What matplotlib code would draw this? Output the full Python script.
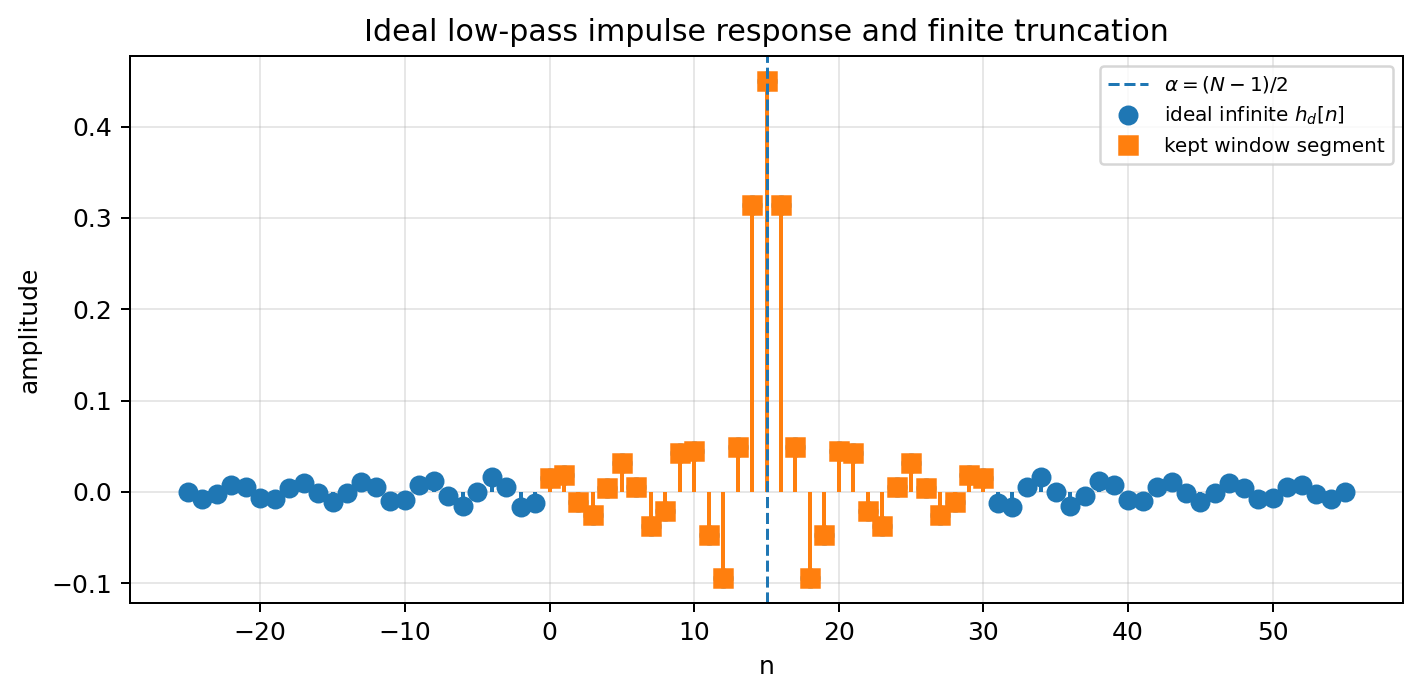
import matplotlib
matplotlib.use("Agg")
import matplotlib.pyplot as plt
from matplotlib.lines import Line2D
import numpy as np

# sample index and ideal (infinite) impulse response values
n_ideal = list(range(-25, 56))
h_ideal = [
    0.0, -0.0081, -0.0026, 0.0077, 0.0052, -0.0064, -0.0076, 0.0044, 0.0095, -0.0016,
    -0.0106, -0.0017, 0.0108, 0.0054, -0.0099, -0.0090, 0.0078, 0.0123, -0.0045, -0.0150,
    0.0, 0.0166, 0.0055, -0.0167, -0.0117,
    # n = 0 .. 30
    0.0150, 0.0184, -0.0111, -0.0252, 0.0045, 0.0318, 0.0055, -0.0378, -0.0206, 0.0429,
    0.0450, -0.0468, -0.0945, 0.0492, 0.3144, 0.4500, 0.3144, 0.0492, -0.0945, -0.0468,
    0.0450, 0.0429, -0.0206, -0.0378, 0.0055, 0.0318, 0.0045, -0.0252, -0.0111, 0.0184,
    0.0150,
    # n = 31 .. 55
    -0.0117, -0.0167, 0.0055, 0.0166, 0.0, -0.0150, -0.0045, 0.0123, 0.0078, -0.0090,
    -0.0099, 0.0054, 0.0108, -0.0017, -0.0106, -0.0016, 0.0095, 0.0044, -0.0076, -0.0064,
    0.0052, 0.0077, -0.0026, -0.0081, 0.0,
]

# kept window segment: n = 0 .. N-1
N = 31
alpha = (N - 1) / 2
n_kept = n_ideal[25:25 + N]
h_kept = h_ideal[25:25 + N]

DPI = 180
fig = plt.figure(figsize=(1421 / DPI, 697 / DPI), dpi=DPI)
ax = fig.add_axes([130 / 1421, 94 / 697, 1273 / 1421, 547 / 697])

# ideal response (blue circles)
ml1, sl1, bl1 = ax.stem(n_ideal, h_ideal, linefmt="C0-", markerfmt="C0o", basefmt=" ")
ml1.set_markersize(7)
sl1.set_linewidth(1.6)

# truncated segment (orange squares)
ml2, sl2, bl2 = ax.stem(n_kept, h_kept, linefmt="C1-", markerfmt="C1s", basefmt=" ")
ml2.set_markersize(7.5)
sl2.set_linewidth(1.6)

ax.axvline(alpha, color="C0", linestyle="--", linewidth=1.2)

ax.grid(True, alpha=0.3)
ax.set_title("Ideal low-pass impulse response and finite truncation", fontsize=12)
ax.set_xlabel("n")
ax.set_ylabel("amplitude")

handles = [
    Line2D([], [], color="C0", linestyle="--", linewidth=1.2),
    Line2D([], [], color="C0", marker="o", linestyle="None", markersize=7),
    Line2D([], [], color="C1", marker="s", linestyle="None", markersize=7),
]
labels = [r"$\alpha=(N-1)/2$", r"ideal infinite $h_d[n]$", "kept window segment"]
ax.legend(handles, labels, loc="upper right", fontsize=8)

fig.savefig("out.png", dpi=DPI)
